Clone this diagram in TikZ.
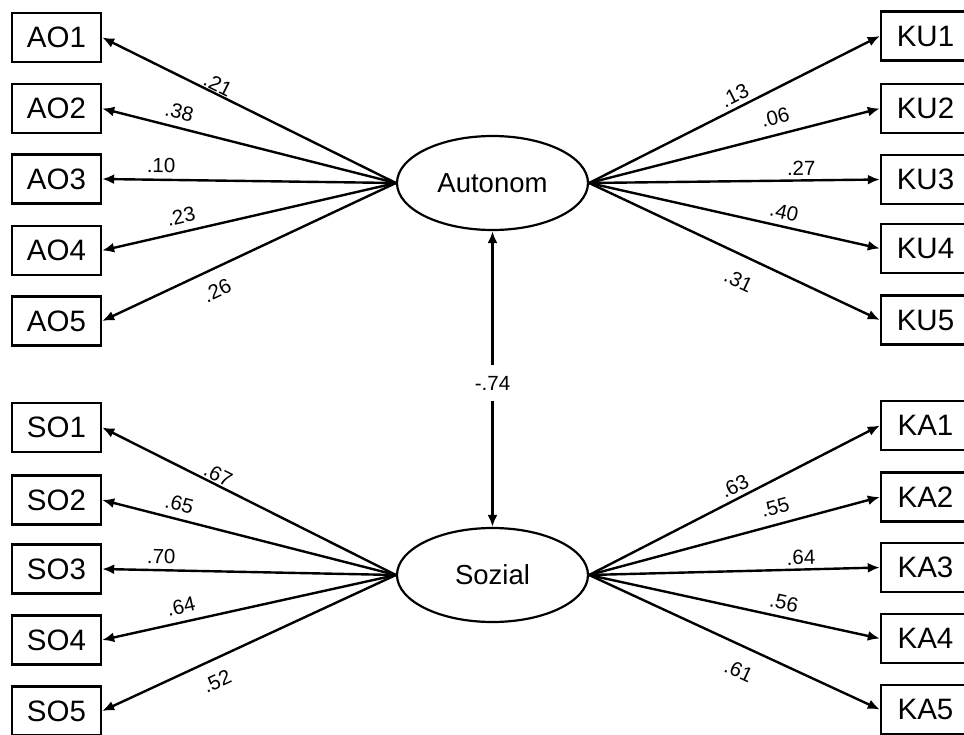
\documentclass[tikz,border=0pt]{standalone}
\usepackage{fontspec}
\setmainfont{Liberation Sans}
\usetikzlibrary{arrows.meta,shapes.geometric}
\begin{document}
\begin{tikzpicture}[x=1pt,y=-1pt,
  obs/.style={draw, line width=2.4pt, minimum width=89pt, minimum height=49pt,
    inner sep=0pt, font=\fontsize{29.5}{34}\selectfont},
  lat/.style={draw, ellipse, line width=2.2pt, minimum width=191pt,
    minimum height=94pt, inner sep=0pt, font=\fontsize{27.5}{32}\selectfont},
  load/.style={line width=2.4pt, -{Latex[length=12pt,width=10pt]}},
  lab/.style={sloped, inner sep=0pt, font=\fontsize{20.5}{24}\selectfont}]
\clip (0,0) rectangle (964,734);

% latent factors
\node[lat] (aut) at (492.5,183) {Autonom};
\node[lat] (soz) at (492.5,575) {Sozial};

% indicators, left column
\node[obs] (ao1) at (56.5,37.5)  {AO1};
\node[obs] (ao2) at (56.5,108.5) {AO2};
\node[obs] (ao3) at (56.5,179)   {AO3};
\node[obs] (ao4) at (56.5,250.5) {AO4};
\node[obs] (ao5) at (56.5,321)   {AO5};
\node[obs] (so1) at (56.5,427.5) {SO1};
\node[obs] (so2) at (56.5,500)   {SO2};
\node[obs] (so3) at (56.5,569)   {SO3};
\node[obs] (so4) at (56.5,640)   {SO4};
\node[obs] (so5) at (56.5,711)   {SO5};

% indicators, right column
\node[obs] (ku1) at (925.5,36)    {KU1};
\node[obs] (ku2) at (925.5,108.5) {KU2};
\node[obs] (ku3) at (925.5,179.5) {KU3};
\node[obs] (ku4) at (925.5,248.5) {KU4};
\node[obs] (ku5) at (925.5,320)   {KU5};
\node[obs] (ka1) at (925.5,425.5) {KA1};
\node[obs] (ka2) at (925.5,497)   {KA2};
\node[obs] (ka3) at (925.5,567.5) {KA3};
\node[obs] (ka4) at (925.5,638.5) {KA4};
\node[obs] (ka5) at (925.5,709.5) {KA5};

% loadings of Autonom
\draw[load] (aut.west) -- node[lab, pos=0.62, above=1pt]   {.21} (ao1.east);
\draw[load] (aut.west) -- node[lab, pos=0.75, above=7pt]   {.38} (ao2.east);
\draw[load] (aut.west) -- node[lab, pos=0.80, above=5.5pt] {.10} (ao3.east);
\draw[load] (aut.west) -- node[lab, pos=0.72, above=7pt]   {.23} (ao4.east);
\draw[load] (aut.west) -- node[lab, pos=0.64, below=13pt]  {.26} (ao5.east);
\draw[load] (aut.east) -- node[lab, pos=0.52, above=4pt]   {.13} (ku1.west);
\draw[load] (aut.east) -- node[lab, pos=0.655, above=9pt]  {.06} (ku2.west);
\draw[load] (aut.east) -- node[lab, pos=0.73, above=3.5pt] {.27} (ku3.west);
\draw[load] (aut.east) -- node[lab, pos=0.66, above=6pt]   {.40} (ku4.west);
\draw[load] (aut.east) -- node[lab, pos=0.55, below=16pt]  {.31} (ku5.west);

% loadings of Sozial
\draw[load] (soz.west) -- node[lab, pos=0.62, above=1.5pt] {.67} (so1.east);
\draw[load] (soz.west) -- node[lab, pos=0.75, above=7pt]   {.65} (so2.east);
\draw[load] (soz.west) -- node[lab, pos=0.80, above=5.5pt] {.70} (so3.east);
\draw[load] (soz.west) -- node[lab, pos=0.72, above=7pt]   {.64} (so4.east);
\draw[load] (soz.west) -- node[lab, pos=0.64, below=13pt]  {.52} (so5.east);
\draw[load] (soz.east) -- node[lab, pos=0.52, above=4pt]   {.63} (ka1.west);
\draw[load] (soz.east) -- node[lab, pos=0.655, above=9pt]  {.55} (ka2.west);
\draw[load] (soz.east) -- node[lab, pos=0.73, above=3.5pt] {.64} (ka3.west);
\draw[load] (soz.east) -- node[lab, pos=0.66, above=6pt]   {.56} (ka4.west);
\draw[load] (soz.east) -- node[lab, pos=0.55, below=16pt]  {.61} (ka5.west);

% factor correlation
\draw[line width=2.4pt, {Latex[length=12pt,width=10pt]}-{Latex[length=12pt,width=10pt]}]
  (aut.south) -- node[fill=white, inner xsep=3pt, inner ysep=11pt,
    font=\fontsize{20.5}{24}\selectfont, pos=0.515] {-.74} (soz.north);
\end{tikzpicture}
\end{document}
